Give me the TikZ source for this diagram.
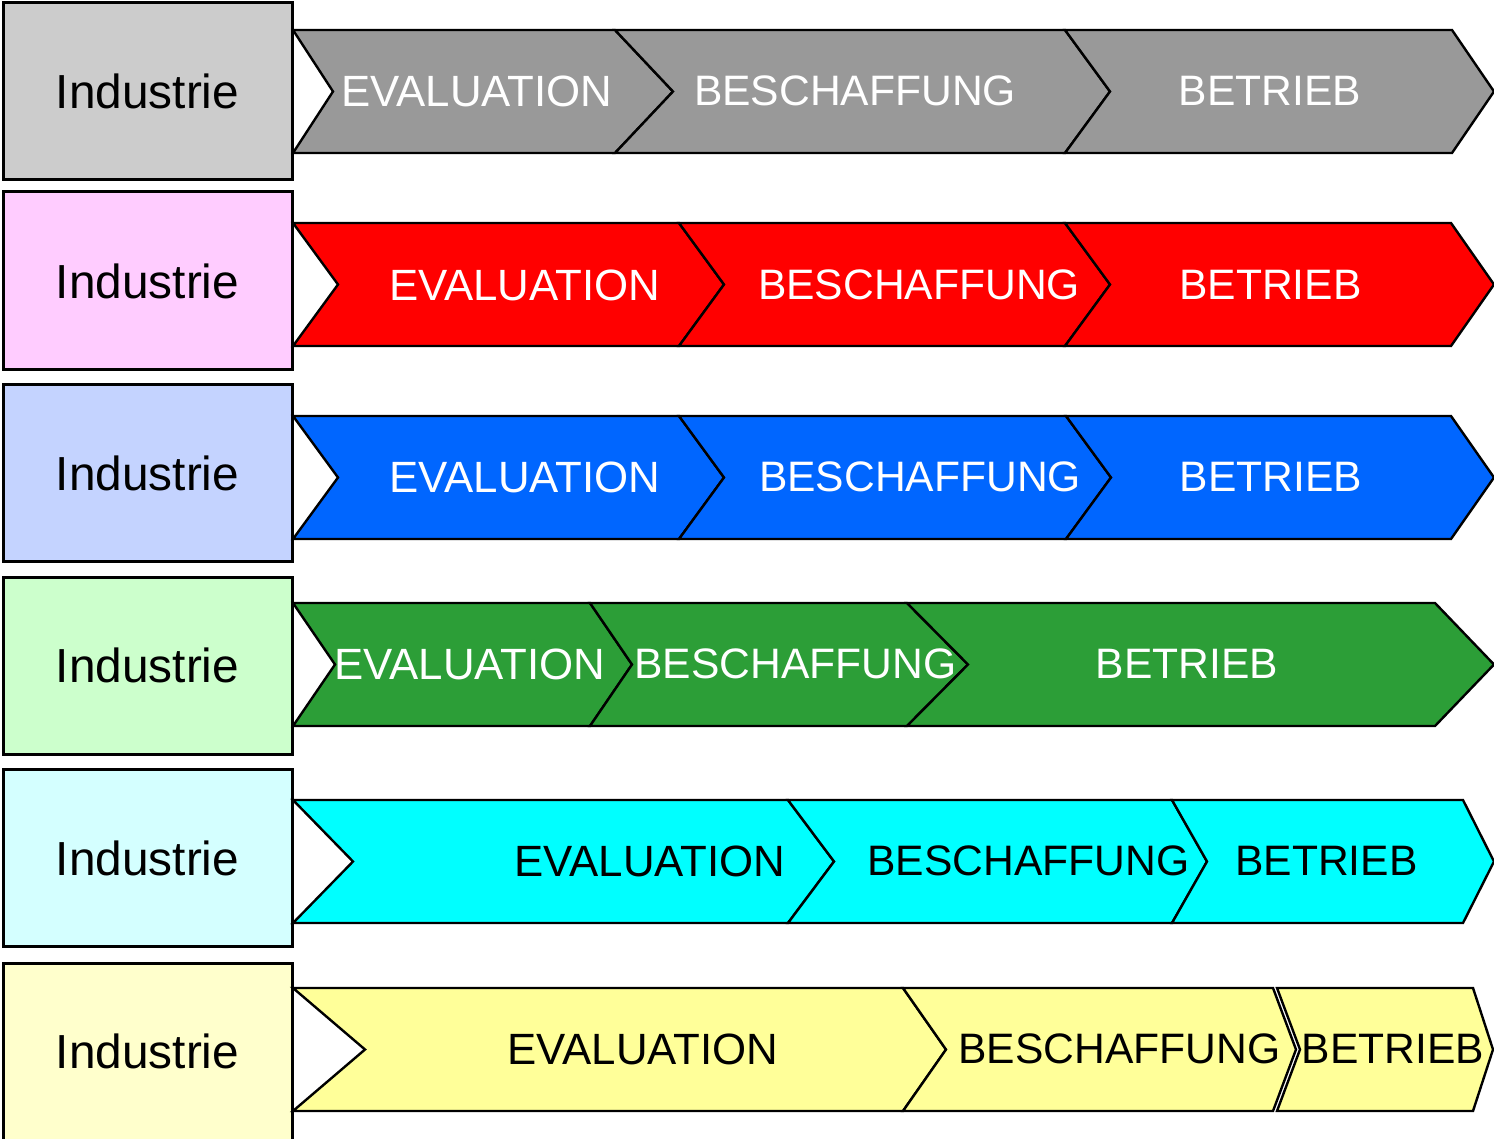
\documentclass[tikz,border=0pt]{standalone}
\usepackage{fontspec}
\setmainfont{Liberation Sans}
\definecolor{cgray}{HTML}{999999}
\definecolor{cred}{HTML}{FF0000}
\definecolor{cblue}{HTML}{0066FF}
\definecolor{cgreen}{HTML}{2C9E37}
\definecolor{ccyan}{HTML}{00FFFF}
\definecolor{cyellow}{HTML}{FFFF99}
\definecolor{bgray}{HTML}{CCCCCC}
\definecolor{bpink}{HTML}{FFCCFF}
\definecolor{bblue}{HTML}{C4D3FF}
\definecolor{bgreen}{HTML}{CCFFCC}
\definecolor{bcyan}{HTML}{D4FFFF}
\definecolor{byellow}{HTML}{FFFFCC}
\newcommand\chevshape[6]{%
  \draw[chevbox,fill=#1] (#2,#6) -- (#4,#6) -- (#5,#6+61.5) -- (#4,#6+123) -- (#2,#6+123) -- (#3,#6+61.5) -- cycle;}
\tikzset{
  leftbox/.style={draw=black,line width=1.5pt},
  chevbox/.style={draw=black,line width=1.2pt,line join=miter},
  indlabel/.style={font=\fontsize{23.9}{26}\selectfont,text depth=0pt,inner sep=0pt},
  chevlabel/.style={font=\fontsize{21.3}{24}\selectfont,text depth=0pt,inner sep=0pt},
  evallabel/.style={font=\fontsize{21.9}{24}\selectfont,text depth=0pt,inner sep=0pt},
}
\begin{document}
\begin{tikzpicture}[x=0.5pt,y=-0.5pt]
\useasboundingbox (0,0) rectangle (1494,1139);
\begin{scope}
\clip (0,0) rectangle (1494,1139);
% left boxes
\draw[leftbox,fill=bgray] (3,3) rectangle (292,180);
\draw[leftbox,fill=bpink] (3,192) rectangle (292,369);
\draw[leftbox,fill=bblue] (3,384) rectangle (292,561);
\draw[leftbox,fill=bgreen] (3,577) rectangle (292,754);
\draw[leftbox,fill=bcyan] (3,769) rectangle (292,946);
\draw[leftbox,fill=byellow] (3,963) rectangle (292,1150);
\end{scope}
\node[indlabel] (i1) at (147.5,91) {Industrie};
\node[indlabel] (i2) at (147.5,281) {Industrie};
\node[indlabel] (i3) at (147.5,473) {Industrie};
\node[indlabel] (i4) at (147.5,665) {Industrie};
\node[indlabel] (i5) at (147.5,858) {Industrie};
\node[indlabel] (i6) at (147.5,1051) {Industrie};
% row 1
\chevshape{cgray}{293}{333}{615}{673}{30}
\chevshape{cgray}{615}{673}{1065}{1110}{30}
\chevshape{cgray}{1065}{1110}{1452}{1494}{30}
\node[evallabel,text=white] (a1) at (477,91) {EVALUATION};
\node[chevlabel,text=white] (b1) at (855,91) {BESCHAFFUNG};
\node[chevlabel,text=white] (c1) at (1270,91) {BETRIEB};
% row 2
\chevshape{cred}{293}{338}{679}{724}{223}
\chevshape{cred}{679}{724}{1065}{1110}{223}
\chevshape{cred}{1065}{1110}{1451}{1494}{223}
\node[evallabel,text=white] (a2) at (524.5,285) {EVALUATION};
\node[chevlabel,text=white] (b2) at (919,285) {BESCHAFFUNG};
\node[chevlabel,text=white] (c2) at (1270.5,285) {BETRIEB};
% row 3
\chevshape{cblue}{293}{338}{679}{724}{416}
\chevshape{cblue}{679}{724}{1066}{1111}{416}
\chevshape{cblue}{1066}{1111}{1451}{1494}{416}
\node[evallabel,text=white] (a3) at (525,477) {EVALUATION};
\node[chevlabel,text=white] (b3) at (920,477) {BESCHAFFUNG};
\node[chevlabel,text=white] (c3) at (1271,477) {BETRIEB};
% row 4
\chevshape{cgreen}{293}{335}{590}{632}{603}
\chevshape{cgreen}{590}{632}{907}{968}{603}
\chevshape{cgreen}{907}{968}{1435}{1494}{603}
\node[evallabel,text=white] (a4) at (470,664) {EVALUATION};
\node[chevlabel,text=white] (b4) at (795.5,664) {BESCHAFFUNG};
\node[chevlabel,text=white] (c4) at (1187,664) {BETRIEB};
% row 5
\chevshape{ccyan}{293}{353}{788}{834}{800}
\chevshape{ccyan}{788}{834}{1172}{1207}{800}
\chevshape{ccyan}{1172}{1207}{1463}{1494}{800}
\node[evallabel,text=black] (a5) at (650,861) {EVALUATION};
\node[chevlabel,text=black] (b5) at (1028.5,861) {BESCHAFFUNG};
\node[chevlabel,text=black] (c5) at (1326.5,861) {BETRIEB};
% row 6
\chevshape{cyellow}{293}{365}{903}{946}{988}
\chevshape{cyellow}{903}{946}{1273}{1296}{988}
\chevshape{cyellow}{1277}{1300}{1473}{1493}{988}
\node[evallabel,text=black] (a6) at (643,1049) {EVALUATION};
\node[chevlabel,text=black] (b6) at (1119.5,1049) {BESCHAFFUNG};
\node[chevlabel,text=black] (c6) at (1393,1049) {BETRIEB};
\end{tikzpicture}
\end{document}
